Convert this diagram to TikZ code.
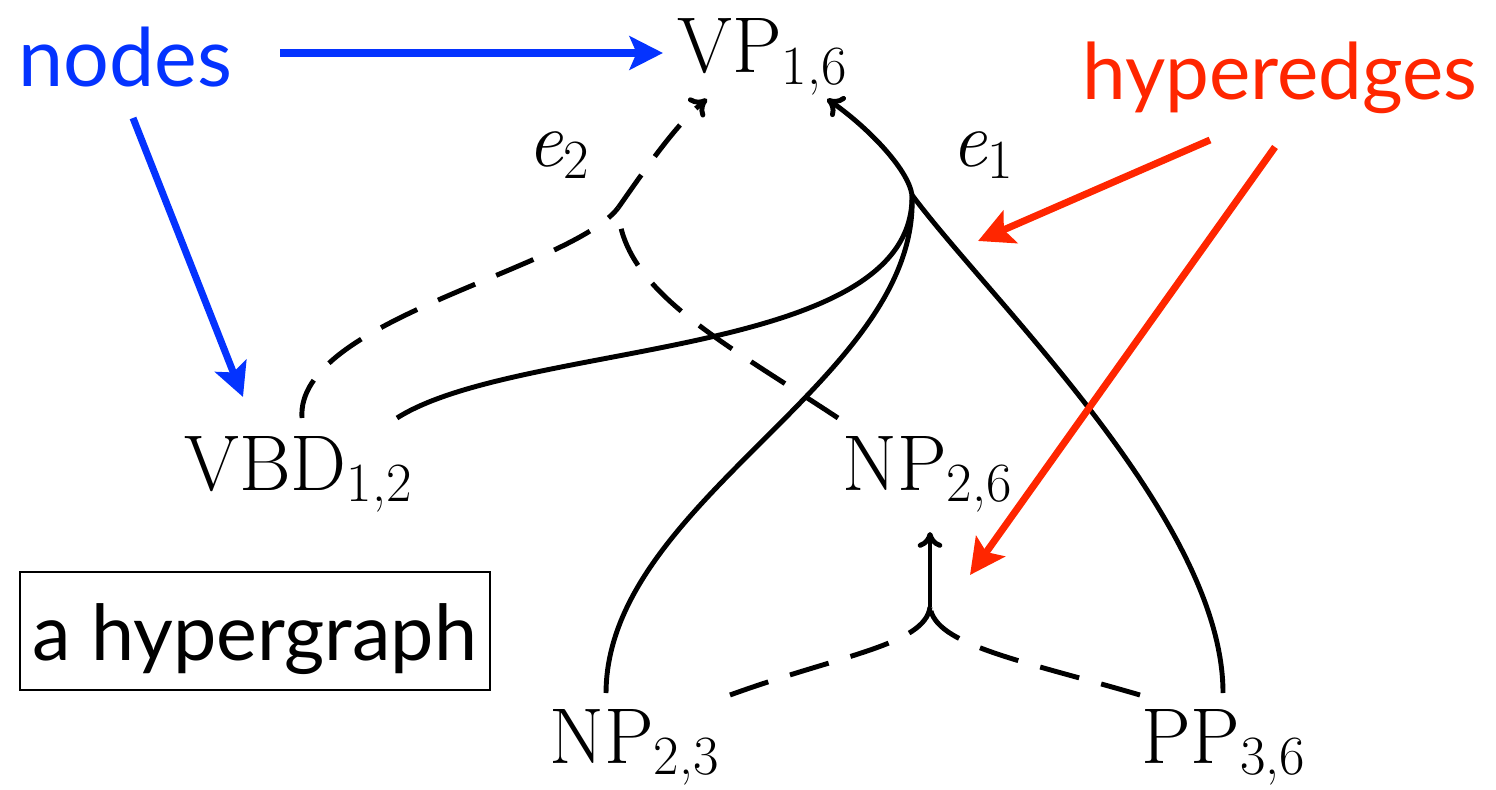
\documentclass[tikz,border=0pt]{standalone}
\usepackage{fontspec}
\setmainfont{Latin Modern Roman}
\newfontfamily\annfont{Lato}
\usetikzlibrary{arrows.meta}
\definecolor{nodeblue}{HTML}{0433FF}
\definecolor{edgered}{HTML}{FF2600}
\newcommand\lowsub[1]{\raisebox{-0.15em}{\fontsize{31.5}{36}\selectfont #1}}
\tikzset{
  lbl/.style={inner sep=0pt, anchor=base, font=\fontsize{45}{54}\selectfont},
  hyp/.style={line width=2.8pt, line cap=butt},
  hhead/.style={hyp, -{To[length=9pt,width=14pt]}},
  dsh/.style={dash pattern=on 23pt off 13pt},
  ann/.style={inner sep=0pt, anchor=base west, font=\annfont\fontsize{46}{55}\selectfont},
  bluearrow/.style={draw=nodeblue, line width=4pt, -{Stealth[length=19pt,width=19pt,inset=4pt]}},
  redarrow/.style={draw=edgered, line width=4pt, -{Stealth[length=20pt,width=20pt,inset=4pt]}}
}
\begin{document}
\begin{tikzpicture}[x=0.02cm,y=-0.02cm]
\useasboundingbox (0,0) rectangle (1496,790);
% nodes
\node[lbl] (vp) at (762,73) {VP\lowsub{1,6}};
\node[lbl] (vbd) at (298,490) {VBD\lowsub{1,2}};
\node[lbl] (np26) at (927,490) {NP\lowsub{2,6}};
\node[lbl] (np23) at (634,763) {NP\lowsub{2,3}};
\node[lbl] (pp36) at (1223,763) {PP\lowsub{3,6}};
\node[lbl] (e2) at (558,167) {\textit{e}\lowsub{2}};
\node[lbl] (e1) at (982,167) {\textit{e}\lowsub{1}};
% annotation texts
\node[ann, text=nodeblue] (nodes) at (18,87) {nodes};
\node[ann, text=edgered, font=\annfont\fontsize{44.5}{54}\selectfont] (hyperedges) at (1082,100) {hyperedges};
\node[draw, line width=1.2pt, minimum width=9.4cm, minimum height=2.36cm,
      text height=1.16cm, text depth=0pt, inner sep=0pt,
      font=\annfont\fontsize{44}{53}\selectfont] (hg) at (255,631) {a hypergraph};
% junctions, tips and tail ends
\coordinate (J1) at (912,195);
\coordinate (T1) at (827,99);
\coordinate (J2) at (618,208);
\coordinate (T2) at (707,99);
\coordinate (J3) at (930,607);
\coordinate (T3) at (930,532);
\coordinate (a1) at (397,418);
\coordinate (a2) at (606,693);
\coordinate (a3) at (1223,693);
\coordinate (b1) at (302,418);
\coordinate (b2) at (838,418);
\coordinate (c1) at (730,695);
\coordinate (c2) at (1140,695);
% hyperedge e1 (solid)
\draw[hyp] (a1) .. controls (520,340) and (915,360) .. (J1);
\draw[hyp] (a2) .. controls (607,500) and (920,380) .. (J1);
\draw[hyp] (a3) .. controls (1223,520) and (990,300) .. (J1);
\draw[hhead] (J1) .. controls (908,168) and (865,125) .. (T1);
% hyperedge e2 (dashed)
\draw[hyp,dsh] (b1) .. controls (295,320) and (570,270) .. (J2);
\draw[hyp,dsh] (b2) .. controls (720,340) and (622,290) .. (J2);
\draw[hhead,dsh] (J2) .. controls (642,174) and (675,125) .. (T2);
% hyperedge into NP_{2,6} (dashed)
\draw[hyp,dsh] (c1) .. controls (840,655) and (925,645) .. (J3);
\draw[hyp,dsh] (c2) .. controls (1020,660) and (935,645) .. (J3);
\draw[hhead] (J3) -- (T3);
% annotation arrows
\coordinate (n1s) at (280,53);
\coordinate (n1e) at (663,53);
\coordinate (n2s) at (133,118);
\coordinate (n2e) at (243,397);
\coordinate (h1s) at (1210,140);
\coordinate (h1e) at (978,241);
\coordinate (h2s) at (1275,147);
\coordinate (h2e) at (970,575);
\draw[bluearrow] (n1s) -- (n1e);
\draw[bluearrow] (n2s) -- (n2e);
\draw[redarrow] (h1s) -- (h1e);
\draw[redarrow] (h2s) -- (h2e);
\end{tikzpicture}
\end{document}
